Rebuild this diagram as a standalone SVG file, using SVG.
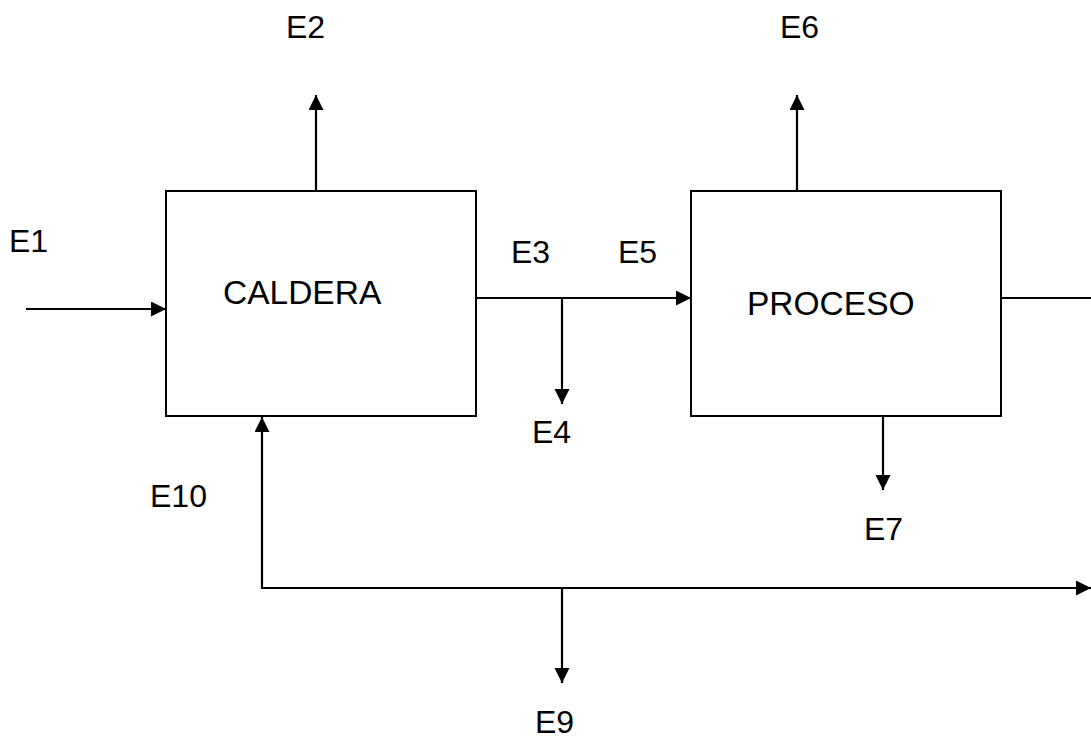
<svg xmlns="http://www.w3.org/2000/svg" width="1091" height="740" viewBox="0 0 1091 740">
<style>
.box{fill:#fff;stroke:#000;stroke-width:2}
.ln{fill:none;stroke:#000;stroke-width:2.2}
.lb{font-family:"Liberation Sans",Arial,sans-serif;font-size:32px;fill:#000}
.bl{font-family:"Liberation Sans",Arial,sans-serif;font-size:33.5px;fill:#000}
</style>
<defs>
<marker id="ah" markerWidth="16" markerHeight="16" refX="15" refY="7.5" orient="auto" markerUnits="userSpaceOnUse">
<path d="M0,0 L15,7.5 L0,15 z" fill="#000"/>
</marker>
</defs>
<rect width="1091" height="740" fill="#fff"/>
<g id="connectors">
<line class="ln" x1="26" y1="309" x2="166" y2="309" marker-end="url(#ah)"/>
<line class="ln" x1="316" y1="191" x2="316" y2="95" marker-end="url(#ah)"/>
<line class="ln" x1="476" y1="298" x2="691" y2="298" marker-end="url(#ah)"/>
<line class="ln" x1="562" y1="298" x2="562" y2="404" marker-end="url(#ah)"/>
<line class="ln" x1="797" y1="191" x2="797" y2="95" marker-end="url(#ah)"/>
<line class="ln" x1="883" y1="416" x2="883" y2="490" marker-end="url(#ah)"/>
<line class="ln" x1="1001" y1="298" x2="1091" y2="298"/>
<line class="ln" x1="262" y1="588" x2="1091" y2="588" marker-end="url(#ah)"/>
<line class="ln" x1="262" y1="589" x2="262" y2="417" marker-end="url(#ah)"/>
<line class="ln" x1="562" y1="588" x2="562" y2="683" marker-end="url(#ah)"/>
</g>
<g id="caldera">
<rect class="box" x="166" y="191" width="310" height="225"/>
<text class="bl" x="223" y="304">CALDERA</text>
</g>
<g id="proceso">
<rect class="box" x="691" y="191" width="310" height="225"/>
<text class="bl" x="747" y="315">PROCESO</text>
</g>
<g id="labels">
<text class="lb" x="9" y="252">E1</text>
<text class="lb" x="286" y="38">E2</text>
<text class="lb" x="511" y="263">E3</text>
<text class="lb" x="532" y="443">E4</text>
<text class="lb" x="618" y="263">E5</text>
<text class="lb" x="780" y="38">E6</text>
<text class="lb" x="864" y="540">E7</text>
<text class="lb" x="535" y="733">E9</text>
<text class="lb" x="150" y="507">E10</text>
</g>
</svg>
